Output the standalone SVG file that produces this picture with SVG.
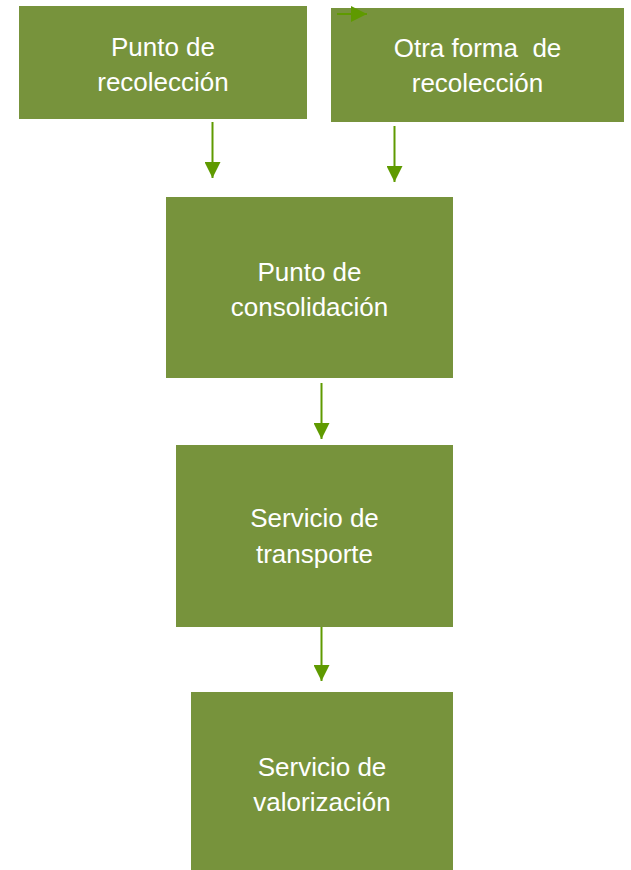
<svg xmlns="http://www.w3.org/2000/svg" width="631" height="870" viewBox="0 0 631 870">
<style>
.box{fill:#77933C}
.lbl{fill:#ffffff;font-family:"Liberation Sans",Arial,sans-serif;font-size:26px;text-anchor:middle;white-space:pre}
.con{stroke:#5F9A00;stroke-width:2;fill:none}
</style>
<defs>
<marker id="ah" markerUnits="userSpaceOnUse" markerWidth="16" markerHeight="16" viewBox="0 0 16 16" refX="16" refY="8" orient="auto">
<path d="M0,0 L16,8 L0,16 Z" fill="#5F9A00"/>
</marker>
</defs>
<rect width="631" height="870" fill="#ffffff"/>
<g id="n1">
<rect class="box" x="19" y="6" width="288" height="113"/>
<text class="lbl" x="163" y="56">Punto de</text>
<text class="lbl" x="163" y="91">recolección</text>
</g>
<g id="n2">
<rect class="box" x="331" y="8" width="293" height="114"/>
<text class="lbl" x="477.5" y="57">Otra forma  de</text>
<text class="lbl" x="477.5" y="92">recolección</text>
</g>
<g id="n3">
<rect class="box" x="166" y="197" width="287" height="181"/>
<text class="lbl" x="309.5" y="281">Punto de</text>
<text class="lbl" x="309.5" y="316">consolidación</text>
</g>
<g id="n4">
<rect class="box" x="176" y="445" width="277" height="182"/>
<text class="lbl" x="314.5" y="527">Servicio de</text>
<text class="lbl" x="314.5" y="563">transporte</text>
</g>
<g id="n5">
<rect class="box" x="191" y="692" width="262" height="178"/>
<text class="lbl" x="322" y="776">Servicio de</text>
<text class="lbl" x="322" y="811">valorización</text>
</g>
<g id="connectors">
<line class="con" x1="337" y1="14" x2="367" y2="14" marker-end="url(#ah)"/>
<line class="con" x1="212.5" y1="122" x2="212.5" y2="178" marker-end="url(#ah)"/>
<line class="con" x1="394.5" y1="126" x2="394.5" y2="182" marker-end="url(#ah)"/>
<line class="con" x1="321.5" y1="383" x2="321.5" y2="439" marker-end="url(#ah)"/>
<line class="con" x1="321.5" y1="627" x2="321.5" y2="681" marker-end="url(#ah)"/>
</g>
</svg>
